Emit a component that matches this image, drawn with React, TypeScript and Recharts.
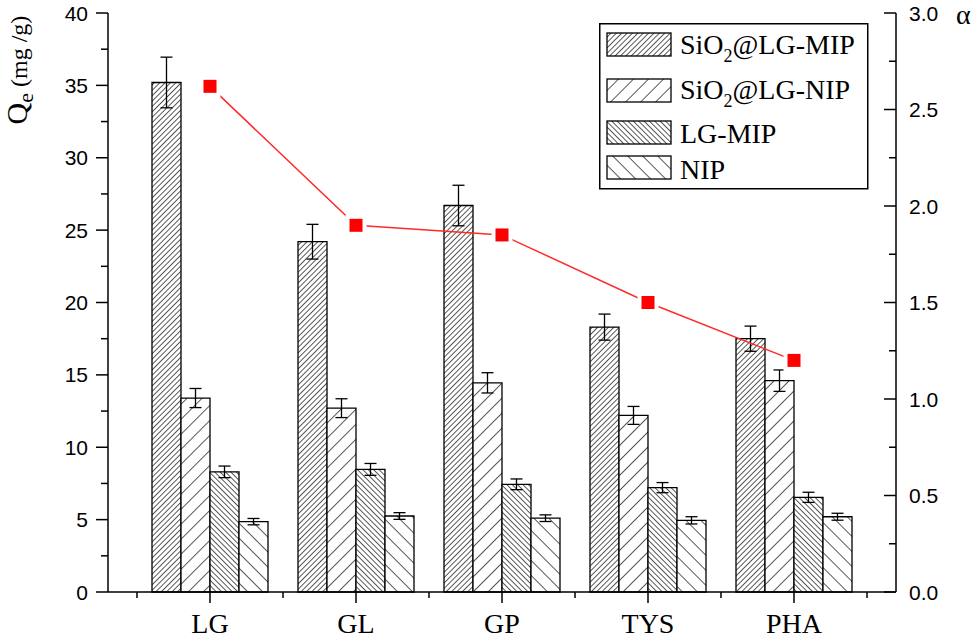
import { ComposedChart, Bar, Line, XAxis, YAxis, ErrorBar, Legend } from 'recharts';

const categories = ['LG', 'GL', 'GP', 'TYS', 'PHA'];
const sio2Mip = [35.2, 24.2, 26.7, 18.3, 17.5];
const sio2MipErr = [1.75, 1.2, 1.4, 0.9, 0.87];
const sio2Nip = [13.4, 12.7, 14.45, 12.2, 14.6];
const sio2NipErr = [0.66, 0.65, 0.7, 0.62, 0.74];
const lgMip = [8.3, 8.47, 7.44, 7.21, 6.54];
const lgMipErr = [0.4, 0.41, 0.37, 0.35, 0.35];
const nip = [4.86, 5.25, 5.1, 4.95, 5.2];
const nipErr = [0.22, 0.23, 0.23, 0.25, 0.24];
const alpha = [2.62, 1.9, 1.85, 1.5, 1.2];

const leftTicks = [0, 2.5, 5, 7.5, 10, 12.5, 15, 17.5, 20, 22.5, 25, 27.5, 30, 32.5, 35, 37.5, 40];
const rightTicks = [0, 0.25, 0.5, 0.75, 1, 1.25, 1.5, 1.75, 2, 2.25, 2.5, 2.75, 3];
const legendOrder = ['sio2Mip', 'sio2Nip', 'lgMip', 'nip'];

const data = categories.map((name, i) => ({
  name,
  sio2Mip: sio2Mip[i],
  sio2MipErr: sio2MipErr[i],
  sio2Nip: sio2Nip[i],
  sio2NipErr: sio2NipErr[i],
  lgMip: lgMip[i],
  lgMipErr: lgMipErr[i],
  nip: nip[i],
  nipErr: nipErr[i],
  alpha: alpha[i],
}));

const W = 980;
const H = 639;
const LEFT_W = 108;
const RIGHT_W = 84;
const PAD = 29;
const HALF_BAND = (W - LEFT_W - RIGHT_W - 2 * PAD) / categories.length / 2;

const sans = 'Liberation Sans, Arial, sans-serif';
const serif = 'Liberation Serif, Times New Roman, serif';

const patterns: Record<string, string> = {
  sio2Mip: 'url(#hatchDenseF)',
  sio2Nip: 'url(#hatchSparseF)',
  lgMip: 'url(#hatchDenseB)',
  nip: 'url(#hatchSparseB)',
};

const LeftTick = (props: any) => {
  const { x, y, payload } = props;
  const major = payload.value % 5 === 0;
  return (
    <g>
      <line x1={x} x2={x - (major ? 12 : 7)} y1={y} y2={y} stroke="#000" strokeWidth={1.5} />
      {major && (
        <text x={x - 20} y={y} dy="0.36em" textAnchor="end" fontFamily={sans} fontSize={21} fill="#000">
          {payload.value}
        </text>
      )}
    </g>
  );
};

const RightTick = (props: any) => {
  const { x, y, payload } = props;
  const major = Math.abs(payload.value * 2 - Math.round(payload.value * 2)) < 1e-6;
  return (
    <g>
      <line x1={x} x2={x - (major ? 12 : 7)} y1={y} y2={y} stroke="#000" strokeWidth={1.5} />
      {major && (
        <text x={x + 13} y={y} dy="0.36em" textAnchor="start" fontFamily={sans} fontSize={21} fill="#000">
          {payload.value.toFixed(1)}
        </text>
      )}
    </g>
  );
};

const BottomTick = (props: any) => {
  const { x, y, payload } = props;
  const last = payload.value === categories[categories.length - 1];
  return (
    <g>
      <line x1={x} x2={x} y1={y} y2={y + 11} stroke="#000" strokeWidth={1.5} />
      <line x1={x - HALF_BAND} x2={x - HALF_BAND} y1={y} y2={y + 6} stroke="#000" strokeWidth={1.5} />
      {last && <line x1={x + HALF_BAND} x2={x + HALF_BAND} y1={y} y2={y + 6} stroke="#000" strokeWidth={1.5} />}
      <text x={x} y={y + 41} textAnchor="middle" fontFamily={serif} fontSize={28} fill="#000">
        {payload.value}
      </text>
    </g>
  );
};

const AlphaDot = (props: any) => {
  const { cx, cy, index } = props;
  return (
    <g key={`dot-${index}`}>
      <rect x={cx - 10.5} y={cy - 10.5} width={21} height={21} fill="#fff" />
      <rect x={cx - 6.5} y={cy - 6.5} width={13} height={13} fill="#ff0000" />
    </g>
  );
};

const Sio2Label = ({ rest }: { rest: string }) => (
  <>
    <tspan>SiO</tspan>
    <tspan fontSize={18} dy={8}>2</tspan>
    <tspan dy={-8}>{rest}</tspan>
  </>
);

const rowTops = [10, 56, 98, 133];
const rowBase = [31, 76, 120, 156];

const LegendBox = (props: any) => {
  const items = legendOrder
    .map((k) => (props.payload || []).find((p: any) => p.dataKey === k))
    .filter(Boolean);
  return (
    <svg width={270} height={167} style={{ display: 'block' }}>
      <rect x={0.75} y={0.75} width={268} height={165} fill="#fff" stroke="#000" strokeWidth={1.5} />
      {items.map((item: any, i: number) => {
        const name: string = item.value;
        return (
          <g key={item.dataKey}>
            <rect x={8} y={rowTops[i]} width={64} height={23} fill={patterns[item.dataKey]} stroke="#000" strokeWidth={1.3} />
            <text x={81} y={rowBase[i]} fontFamily={serif} fontSize={28} fill="#000">
              {name.startsWith('SiO2') ? <Sio2Label rest={name.slice(4)} /> : name}
            </text>
          </g>
        );
      })}
    </svg>
  );
};

const QeLabel = () => (
  <text x={27} y={70} transform="rotate(-90, 27, 70)" textAnchor="middle" fontFamily={serif} fill="#000">
    <tspan fontSize={30}>Q</tspan>
    <tspan fontSize={22} dy={6}>e</tspan>
    <tspan fontSize={24} dy={-6}> (mg /g)</tspan>
  </text>
);

const AlphaLabel = () => (
  <text x={956} y={24} fontFamily={serif} fontSize={28} fill="#000">
    α
  </text>
);

export default function App() {
  return (
    <div style={{ width: W, height: H }}>
      <style>{'body{margin:0;}'}</style>
      <ComposedChart
        width={W}
        height={H}
        data={data}
        margin={{ top: 13, right: 0, bottom: 0, left: 0 }}
        barGap={0}
        barCategoryGap={15}
      >
        <defs>
          <pattern id="hatchDenseF" width={3.8} height={3.8} patternUnits="userSpaceOnUse" patternTransform="rotate(45)">
            <rect width={3.8} height={3.8} fill="#fff" />
            <line x1={0} y1={0} x2={0} y2={3.8} stroke="#000" strokeWidth={1.3} />
          </pattern>
          <pattern id="hatchSparseF" width={10.6} height={10.6} patternUnits="userSpaceOnUse" patternTransform="rotate(45)">
            <rect width={10.6} height={10.6} fill="#fff" />
            <line x1={0} y1={0} x2={0} y2={10.6} stroke="#000" strokeWidth={1.3} />
          </pattern>
          <pattern id="hatchDenseB" width={3.8} height={3.8} patternUnits="userSpaceOnUse" patternTransform="rotate(-45)">
            <rect width={3.8} height={3.8} fill="#fff" />
            <line x1={0} y1={0} x2={0} y2={3.8} stroke="#000" strokeWidth={1.3} />
          </pattern>
          <pattern id="hatchSparseB" width={10.6} height={10.6} patternUnits="userSpaceOnUse" patternTransform="rotate(-45)">
            <rect width={10.6} height={10.6} fill="#fff" />
            <line x1={0} y1={0} x2={0} y2={10.6} stroke="#000" strokeWidth={1.3} />
          </pattern>
        </defs>
        <XAxis
          dataKey="name"
          height={47}
          padding={{ left: PAD, right: PAD }}
          tickSize={0}
          tickMargin={0}
          interval={0}
          tick={<BottomTick />}
          axisLine={{ stroke: '#000', strokeWidth: 1.5 }}
          tickLine={false}
        />
        <YAxis
          yAxisId="left"
          orientation="left"
          width={LEFT_W}
          domain={[0, 40]}
          ticks={leftTicks}
          interval={0}
          tickSize={0}
          tickMargin={0}
          tick={<LeftTick />}
          axisLine={{ stroke: '#000', strokeWidth: 1.5 }}
          tickLine={false}
          label={<QeLabel />}
        />
        <YAxis
          yAxisId="right"
          orientation="right"
          width={RIGHT_W}
          domain={[0, 3]}
          ticks={rightTicks}
          interval={0}
          tickSize={0}
          tickMargin={0}
          tick={<RightTick />}
          axisLine={{ stroke: '#000', strokeWidth: 1.5 }}
          tickLine={false}
          label={<AlphaLabel />}
        />
        <Legend
          layout="vertical"
          align="center"
          verticalAlign="middle"
          content={<LegendBox />}
          wrapperStyle={{ left: 599, top: 23, width: 270, height: 167 }}
        />
        <Bar yAxisId="left" dataKey="sio2Mip" name="SiO2@LG-MIP" fill={patterns.sio2Mip} stroke="#000" strokeWidth={1.3} isAnimationActive={false}>
          <ErrorBar dataKey="sio2MipErr" width={6} stroke="#000" strokeWidth={1.3} />
        </Bar>
        <Bar yAxisId="left" dataKey="sio2Nip" name="SiO2@LG-NIP" fill={patterns.sio2Nip} stroke="#000" strokeWidth={1.3} isAnimationActive={false}>
          <ErrorBar dataKey="sio2NipErr" width={6} stroke="#000" strokeWidth={1.3} />
        </Bar>
        <Bar yAxisId="left" dataKey="lgMip" name="LG-MIP" fill={patterns.lgMip} stroke="#000" strokeWidth={1.3} isAnimationActive={false}>
          <ErrorBar dataKey="lgMipErr" width={6} stroke="#000" strokeWidth={1.3} />
        </Bar>
        <Bar yAxisId="left" dataKey="nip" name="NIP" fill={patterns.nip} stroke="#000" strokeWidth={1.3} isAnimationActive={false}>
          <ErrorBar dataKey="nipErr" width={6} stroke="#000" strokeWidth={1.3} />
        </Bar>
        <Line
          yAxisId="right"
          dataKey="alpha"
          name="alpha"
          type="linear"
          stroke="#ff2a2a"
          strokeWidth={1.5}
          dot={<AlphaDot />}
          activeDot={false}
          legendType="none"
          isAnimationActive={false}
        />
      </ComposedChart>
    </div>
  );
}
